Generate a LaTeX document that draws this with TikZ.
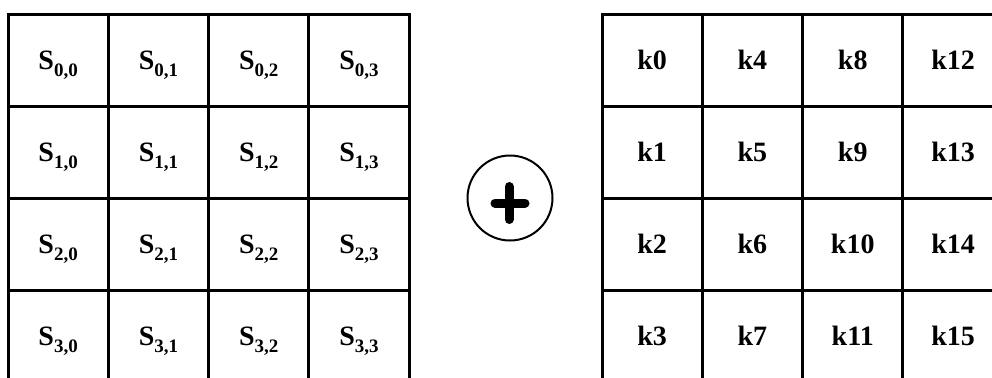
\documentclass[tikz,border=0pt]{standalone}
\usepackage{fontspec}
\setmainfont{Liberation Serif}
\usepackage{tikz}
\colorlet{cellLine}{black}
\colorlet{cellText}{black}
\newcommand{\cellsub}[1]{\raisebox{-3.5pt}[\height][0pt]{\fontsize{9.5}{10}\selectfont #1}}

\begin{document}
\begin{tikzpicture}[
  x=0.5pt,
  y=-0.5pt,
  every grid cell/.style={
    draw=cellLine,
    line width=1.5pt,
    minimum width=50.15pt,
    minimum height=46pt,
    inner sep=0pt,
    text=cellText,
    font=\fontsize{14}{16}\selectfont\bfseries,
  },
  xor circle/.style={
    circle,
    draw=cellLine,
    line width=1pt,
    minimum size=42.5pt,
    inner sep=0pt,
  },
  plus bar/.style={
    draw=cellLine,
    line width=4.5pt,
    line cap=round,
  },
]
\useasboundingbox (0,0) rectangle (992,377);
% state matrix
\foreach \i in {0,...,3}{
  \foreach \j in {0,...,3}{
    \node[every grid cell] (s\i\j) at ({58.15+100.3*\j},{60+92*\i}) {S\cellsub{\i,\j}};
  }
}
% round key
\foreach \i in {0,...,3}{
  \foreach \j in {0,...,3}{
    \pgfmathtruncatemacro{\keyno}{4*\j+\i}
    \node[every grid cell] (k\i\j) at ({652.15+100.3*\j},{60+92*\i}) {k\keyno};
  }
}
% xor sign
\node[xor circle] (xor) at (510,198) {};
\draw[plus bar] ([shift={(-15,5)}]xor.center) -- ([shift={(15,5)}]xor.center);
\draw[plus bar] ([shift={(-1,-11.5)}]xor.center) -- ([shift={(-1,21.5)}]xor.center);
\end{tikzpicture}
\end{document}
